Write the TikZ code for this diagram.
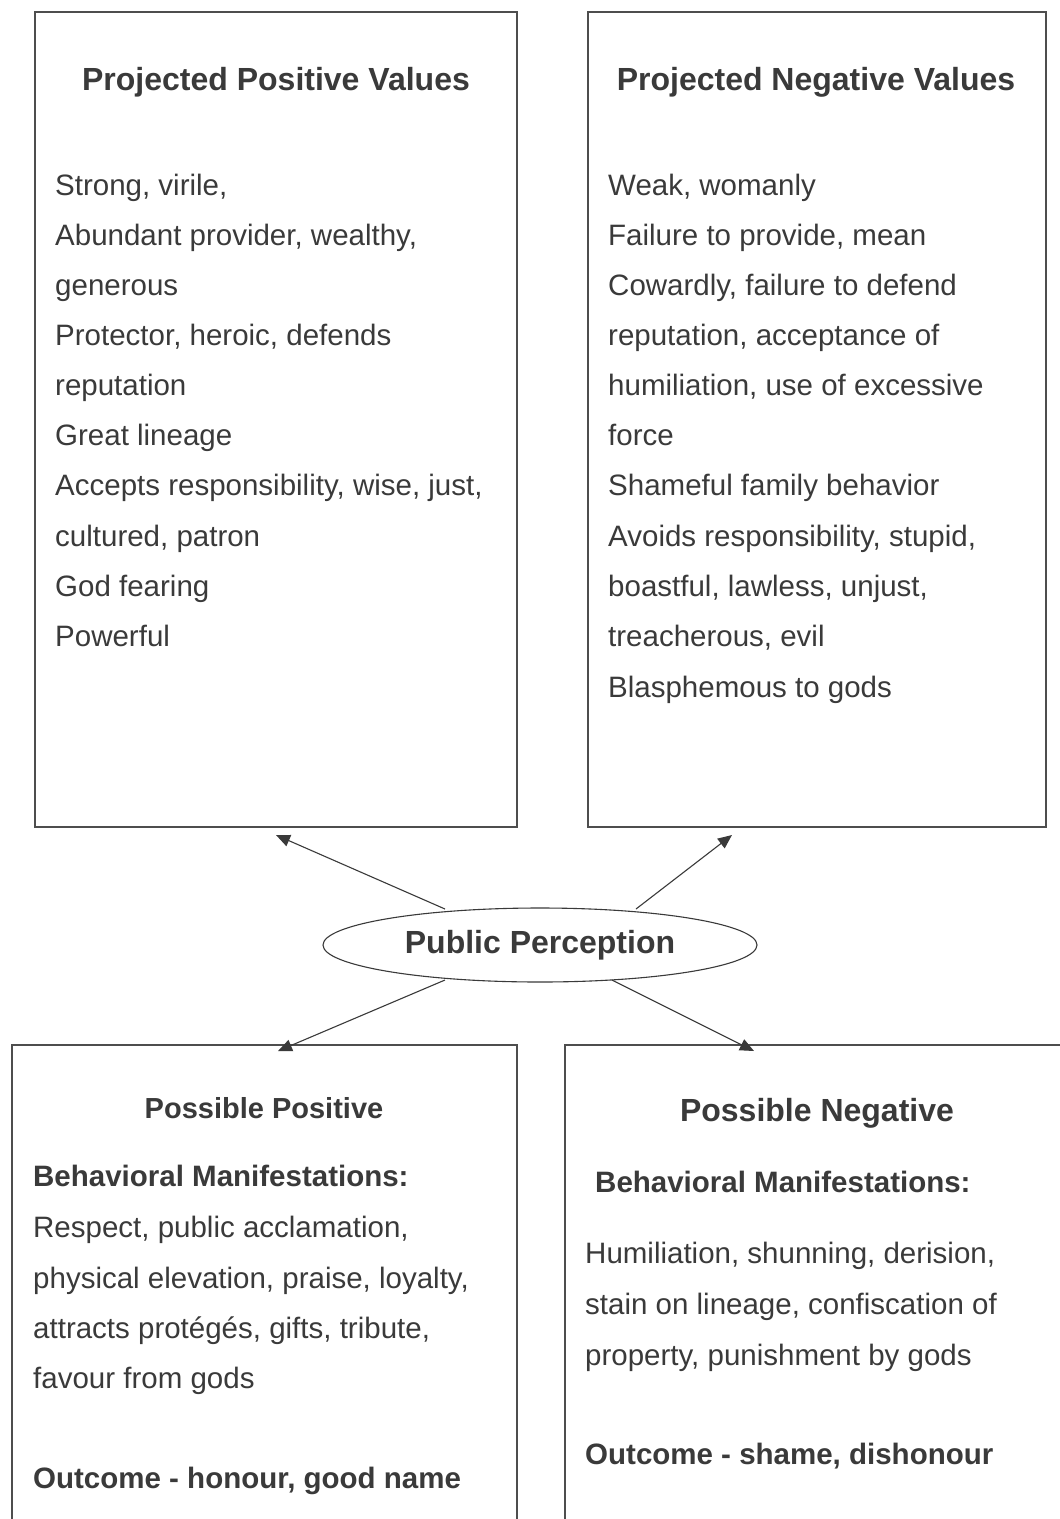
\documentclass[tikz,border=0pt]{standalone}
\usepackage{fontspec}
\setmainfont{Liberation Sans}
\usetikzlibrary{shapes.geometric, arrows.meta}
\definecolor{ink}{HTML}{3A3A3A}
\tikzstyle{frame} = [draw = ink!90, line width = 1.3pt]
\tikzstyle{item} = [anchor = base west, inner sep = 0pt, text = ink, font = \fontsize{29.5}{34}\selectfont]
\tikzstyle{head} = [anchor = base, inner sep = 0pt, text = ink, font = \fontsize{32}{36}\selectfont\bfseries]
\tikzstyle{link} = [draw = ink, line width = 1.1pt, -{Triangle[length = 14pt, width = 12pt]}]

\begin{document}
\begin{tikzpicture}[x=1pt, y=-1pt]

		\clip (0,0) rectangle (1060,1519);
		\fill[white] (0,0) rectangle (1060,1519);

		% Boxes
		\draw[frame] (35,12) rectangle (517,827);
		\draw[frame] (588,12) rectangle (1046,827);
		\draw[frame] (12,1045) rectangle (517,1560);
		\draw[frame] (565,1045) rectangle (1100,1560);

		% Projected Positive Values
		\node (pos) [head] at (276,90) {Projected Positive Values};
		\foreach \y/\t [count=\n] in {185/{Strong, virile,}, 235/{Abundant provider, wealthy,}, 285/generous, 335/{Protector, heroic, defends}, 385/reputation, 435/Great lineage, 485/{Accepts responsibility, wise, just,}, 536/{cultured, patron}, 586/God fearing, 636/Powerful}
		{
			\node (pos\n) [item] at (55,\y+10) {\t};
		}

		% Projected Negative Values
		\node (neg) [head] at (816,90) {Projected Negative Values};
		\foreach \y/\t [count=\n] in {185/{Weak, womanly}, 235/{Failure to provide, mean}, 285/{Cowardly, failure to defend}, 335/{reputation, acceptance of}, 385/{humiliation, use of excessive}, 435/force, 485/Shameful family behavior, 536/{Avoids responsibility, stupid,}, 586/{boastful, lawless, unjust,}, 636/{treacherous, evil}, 687/Blasphemous to gods}
		{
			\node (neg\n) [item] at (608,\y+10) {\t};
		}

		% Public Perception
		\node (pp) [draw = ink, line width = 1.1pt, ellipse, minimum width = 434pt, minimum height = 74pt, text = ink, font = \fontsize{32}{36}\selectfont\bfseries] at (540,945) {Public Perception};

		% Possible Positive
		\node (ppos) [head, font = \fontsize{29}{34}\selectfont\bfseries] at (264,1118) {Possible Positive};
		\node (pposb) [item, font = \fontsize{29.5}{34}\selectfont\bfseries] at (33,1186) {Behavioral Manifestations:};
		\foreach \y/\t [count=\n] in {1227/{Respect, public acclamation,}, 1278/{physical elevation, praise, loyalty,}, 1328/{attracts protégés, gifts, tribute,}, 1378/favour from gods}
		{
			\node (ppos\n) [item] at (33,\y+10) {\t};
		}
		\node (pposo) [item, font = \fontsize{29.5}{34}\selectfont\bfseries] at (33,1488) {Outcome - honour, good name};

		% Possible Negative
		\node (pneg) [head] at (817,1121) {Possible Negative};
		\node (pnegb) [item, font = \fontsize{29.5}{34}\selectfont\bfseries] at (595,1192) {Behavioral Manifestations:};
		\foreach \y/\t [count=\n] in {1253/{Humiliation, shunning, derision,}, 1304/{stain on lineage, confiscation of}, 1355/{property, punishment by gods}}
		{
			\node (pneg\n) [item] at (585,\y+10) {\t};
		}
		\node (pnego) [item, font = \fontsize{29.5}{34}\selectfont\bfseries] at (585,1464) {Outcome - shame, dishonour};

		% Arrows
		\coordinate (tl) at (276,835);
		\coordinate (tr) at (732,835);
		\coordinate (bl) at (278,1051);
		\coordinate (br) at (754,1051);
		\coordinate (pp-tl) at (445,909);
		\coordinate (pp-tr) at (636,909);
		\coordinate (pp-bl) at (445,980);
		\coordinate (pp-br) at (612,980);
		\draw[link] (pp-tl) -- (tl);
		\draw[link] (pp-tr) -- (tr);
		\draw[link] (pp-bl) -- (bl);
		\draw[link] (pp-br) -- (br);
	\end{tikzpicture}
\end{document}
